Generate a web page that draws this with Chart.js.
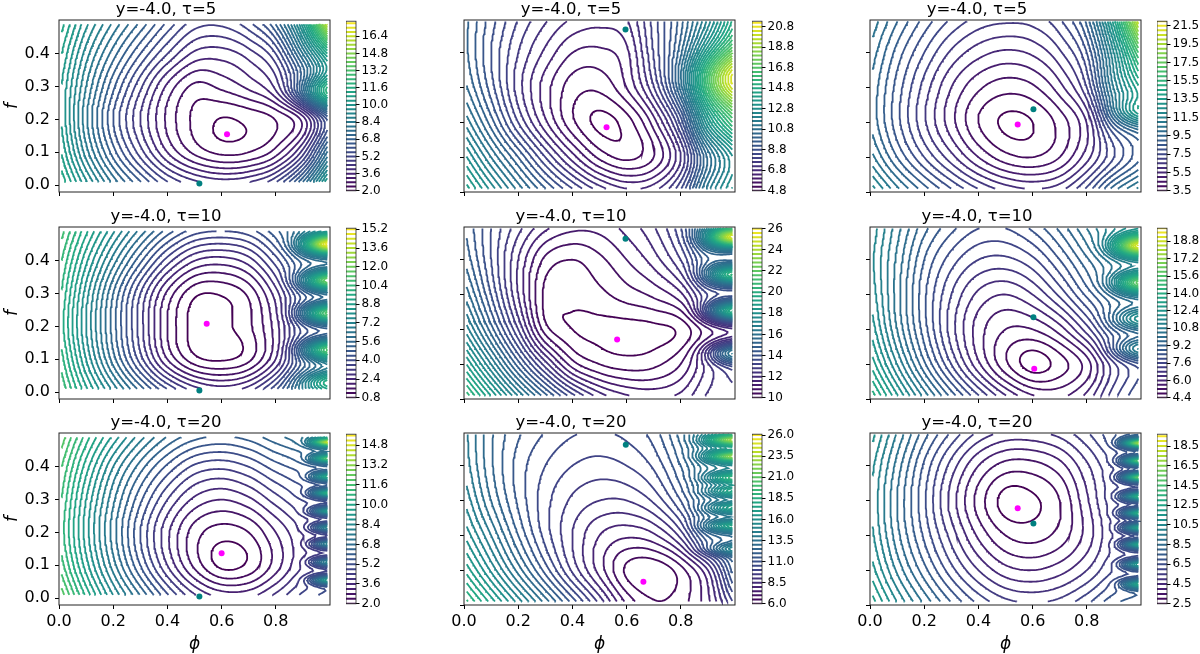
<!DOCTYPE html>
<html lang="en">
<head>
<meta charset="UTF-8">
<title>Contour panels</title>
<script src="https://cdn.jsdelivr.net/npm/chart.js"></script>
<style>
  body { margin: 0; background: #fff; width: 1200px; height: 654px; overflow: hidden; position: relative; }
  canvas { position: absolute; }
</style>
</head>
<body>
<script>
// ---- data ----
const titles = ['y=-4.0, τ=5', 'y=-4.0, τ=5', 'y=-4.0, τ=5',
                'y=-4.0, τ=10', 'y=-4.0, τ=10', 'y=-4.0, τ=10',
                'y=-4.0, τ=20', 'y=-4.0, τ=20', 'y=-4.0, τ=20'];
const xTicks = [0, 0.2, 0.4, 0.6, 0.8];
const yTicks = [0, 0.1, 0.2, 0.3, 0.4];

// field values on a coarse grid: rows f = 0.0 .. 0.5 (step 0.1), columns phi = 0.0 .. 1.0 (step 0.1)
const field1 = [
  [11.8, 9.8, 8.0, 6.6, 5.4, 4.7, 4.4, 4.6, 5.4, 7.5, 11.0],
  [11.0, 8.6, 6.6, 5.0, 3.6, 2.7, 2.3, 2.4, 3.0, 4.6, 8.0],
  [10.6, 8.1, 6.0, 4.4, 3.1, 2.3, 1.98, 2.1, 2.4, 3.2, 6.0],
  [10.6, 8.4, 6.5, 4.9, 3.5, 2.7, 2.9, 3.3, 3.9, 5.5, 8.5],
  [11.0, 9.0, 7.4, 6.0, 4.8, 3.9, 3.8, 4.2, 5.2, 8.0, 11.5],
  [11.6, 9.8, 8.4, 7.2, 6.0, 5.1, 5.0, 5.6, 7.0, 10.5, 17.5]
];
const field2 = [
  [14.5, 12.8, 11.2, 9.8, 8.6, 7.6, 7.0, 7.2, 8.5, 11.5, 13.5],
  [13.0, 11.2, 9.6, 8.0, 6.6, 5.5, 5.1, 5.6, 7.2, 10.5, 13.0],
  [11.6, 9.8, 8.0, 6.5, 5.3, 4.7, 5.0, 6.2, 8.5, 13.0, 16.0],
  [10.6, 9.0, 7.4, 6.2, 5.4, 5.3, 6.0, 7.5, 10.0, 14.0, 17.0],
  [10.2, 8.8, 7.6, 6.7, 6.0, 5.9, 6.3, 8.0, 10.0, 13.0, 16.0],
  [10.2, 9.0, 8.0, 7.3, 6.8, 6.6, 6.8, 8.2, 9.8, 12.0, 15.0]
];
const field3 = [
  [12.5, 10.8, 9.4, 8.2, 7.2, 6.5, 6.2, 6.5, 7.8, 10.0, 11.5],
  [10.8, 9.0, 7.5, 6.2, 5.0, 4.2, 4.0, 4.5, 5.8, 7.5, 9.0],
  [10.0, 8.2, 6.6, 5.2, 4.0, 3.4, 3.5, 4.2, 5.5, 8.5, 10.0],
  [10.0, 8.3, 6.8, 5.5, 4.6, 4.2, 4.4, 5.3, 7.0, 11.0, 14.0],
  [10.4, 8.8, 7.5, 6.4, 5.7, 5.4, 5.6, 6.4, 8.0, 12.0, 17.0],
  [11.0, 9.6, 8.4, 7.5, 6.9, 6.7, 6.8, 7.5, 9.3, 14.0, 21.5]
];
const field4 = [
  [11.0, 9.0, 7.2, 5.6, 4.2, 3.2, 2.8, 3.2, 4.5, 6.5, 7.5],
  [10.4, 8.0, 5.8, 3.8, 2.0, 0.95, 0.75, 1.1, 2.4, 4.6, 6.0],
  [10.0, 7.6, 5.4, 3.4, 1.6, 0.65, 0.7, 1.1, 2.2, 4.0, 4.5],
  [10.2, 7.8, 5.6, 3.6, 1.9, 0.9, 0.85, 1.3, 2.6, 4.4, 5.0],
  [10.6, 8.5, 6.6, 4.9, 3.4, 2.4, 2.2, 2.6, 3.8, 5.2, 5.5],
  [11.2, 9.4, 7.8, 6.4, 5.2, 4.4, 4.2, 4.4, 5.2, 6.3, 7.0]
];
const field5 = [
  [21.0, 19.0, 17.0, 15.2, 13.6, 12.4, 11.8, 11.6, 11.8, 12.5, 12.5],
  [19.0, 16.8, 14.6, 12.6, 11.0, 10.4, 10.2, 10.3, 10.8, 12.0, 13.0],
  [17.2, 15.0, 12.8, 10.6, 10.0, 9.9, 9.85, 9.9, 10.1, 11.0, 11.5],
  [16.0, 14.0, 12.0, 10.3, 10.15, 10.3, 10.6, 10.9, 11.5, 13.0, 13.0],
  [15.2, 13.6, 12.0, 10.7, 10.4, 10.7, 11.2, 11.8, 12.8, 14.5, 14.0],
  [14.8, 13.6, 12.6, 11.8, 11.4, 11.4, 11.8, 12.4, 13.6, 16.0, 16.0]
];
const field6 = [
  [14.5, 12.6, 10.8, 9.2, 7.8, 6.6, 5.8, 5.6, 6.2, 7.5, 8.5],
  [13.2, 11.2, 9.3, 7.6, 6.1, 4.9, 4.2, 4.6, 5.4, 7.0, 8.0],
  [12.4, 10.4, 8.6, 7.0, 5.8, 5.2, 5.2, 5.8, 7.0, 8.5, 9.0],
  [12.0, 10.2, 8.5, 7.2, 6.3, 6.0, 6.4, 7.3, 8.5, 9.5, 10.0],
  [11.8, 10.3, 8.8, 7.8, 7.2, 7.1, 7.5, 8.4, 9.5, 10.5, 11.0],
  [12.0, 10.6, 9.4, 8.6, 8.1, 8.1, 8.6, 9.4, 10.5, 11.5, 12.0]
];
const field7 = [
  [12.5, 10.4, 8.5, 6.9, 5.4, 4.2, 3.6, 3.6, 4.2, 5.0, 5.5],
  [11.6, 9.4, 7.4, 5.6, 4.0, 2.7, 1.9, 2.1, 3.0, 4.0, 4.5],
  [11.2, 9.0, 7.0, 5.2, 3.7, 2.6, 2.2, 2.4, 3.2, 4.0, 4.5],
  [11.4, 9.2, 7.3, 5.7, 4.4, 3.5, 3.2, 3.5, 4.2, 4.8, 5.0],
  [11.8, 9.8, 8.0, 6.6, 5.5, 4.7, 4.5, 4.8, 5.4, 5.8, 6.0],
  [12.5, 10.7, 9.2, 7.9, 6.9, 6.3, 6.1, 6.3, 6.8, 7.2, 7.5]
];
const field8 = [
  [19.5, 17.5, 15.5, 13.5, 11.5, 9.5, 7.5, 6.6, 6.8, 7.8, 10.0],
  [17.5, 15.4, 13.3, 11.3, 9.4, 7.8, 6.4, 6.1, 6.8, 8.5, 12.0],
  [16.0, 14.0, 12.0, 10.3, 9.0, 8.0, 7.6, 7.9, 9.2, 12.0, 13.0],
  [15.0, 13.0, 11.4, 10.2, 9.4, 9.0, 9.0, 9.6, 11.0, 13.0, 14.0],
  [14.4, 12.6, 11.3, 10.5, 10.0, 9.8, 10.0, 10.6, 12.0, 14.0, 15.0],
  [14.2, 12.6, 11.6, 11.0, 10.6, 10.5, 10.7, 11.3, 12.8, 15.0, 16.0]
];
const field9 = [
  [12.5, 10.6, 9.0, 7.6, 6.5, 5.8, 5.6, 5.8, 6.5, 7.5, 8.0],
  [11.4, 9.4, 7.7, 6.2, 5.0, 4.2, 4.0, 4.3, 5.0, 6.0, 6.5],
  [10.8, 8.7, 6.9, 5.3, 3.9, 3.0, 2.8, 3.2, 4.2, 5.5, 6.0],
  [10.6, 8.5, 6.6, 4.8, 3.3, 2.3, 2.4, 3.0, 4.4, 5.8, 6.0],
  [10.8, 8.8, 6.9, 5.3, 4.0, 3.3, 3.3, 3.8, 4.9, 6.0, 6.5],
  [11.4, 9.5, 7.8, 6.5, 5.5, 5.0, 5.0, 5.3, 6.0, 7.0, 7.5]
];

// bright lobes along the right edge (phi = 1): centre f and height
const lobeF1 = [0.28],               lobeA1 = [4.5];
const lobeF2 = [0.33],               lobeA2 = [4];
const lobeF3 = [0.23],               lobeA3 = [3];
const lobeF4 = [0.45, 0.34, 0.24, 0.13, 0.03], lobeA4 = [9, 7, 7, 6, 3];
const lobeF5 = [0.465, 0.357, 0.252, 0.133],   lobeA5 = [10, 7, 8, 4];
const lobeF6 = [0.44, 0.333, 0.229, 0.143],    lobeA6 = [8, 6, 3, 3];
const lobeF7 = [0.475, 0.425, 0.37, 0.32, 0.265, 0.215, 0.165, 0.11, 0.055], lobeA7 = [8, 6, 5, 6, 5, 4, 4, 4, 5];
const lobeF8 = [0.474, 0.427, 0.365, 0.327, 0.279, 0.227, 0.16], lobeA8 = [8, 8, 5, 4, 4, 5, 3];
const lobeF9 = [0.465, 0.414, 0.367, 0.312, 0.264, 0.222, 0.174, 0.117, 0.06], lobeA9 = [11, 9, 10, 8, 8, 7, 7, 6, 6];
const lobeWidthF = [0.05, 0.08, 0.04, 0.03, 0.03, 0.03, 0.014, 0.016, 0.014];
const lobeDepth  = [0.12, 0.15, 0.10, 0.09, 0.09, 0.09, 0.06, 0.09, 0.06];

// contour levels and colour bar range
const levelMin  = [2.0, 4.8, 3.5, 0.8, 10.0, 4.4, 2.0, 6.0, 2.5];
const levelStep = [0.4, 0.4, 0.5, 0.4, 0.4, 0.4, 0.4, 0.5, 0.5];
const levelMax  = [17.6, 21.2, 22.0, 15.2, 26.0, 20.0, 15.6, 26.0, 19.5];
const barMax    = [17.8, 21.35, 22.0, 15.3, 26.05, 20.0, 15.7, 26.1, 19.7];
const cbTicks1 = ['2.0', '3.6', '5.2', '6.8', '8.4', '10.0', '11.6', '13.2', '14.8', '16.4'];
const cbTicks2 = ['4.8', '6.8', '8.8', '10.8', '12.8', '14.8', '16.8', '18.8', '20.8'];
const cbTicks3 = ['3.5', '5.5', '7.5', '9.5', '11.5', '13.5', '15.5', '17.5', '19.5', '21.5'];
const cbTicks4 = ['0.8', '2.4', '4.0', '5.6', '7.2', '8.8', '10.4', '12.0', '13.6', '15.2'];
const cbTicks5 = ['10', '12', '14', '16', '18', '20', '22', '24', '26'];
const cbTicks6 = ['4.4', '6.0', '7.6', '9.2', '10.8', '12.4', '14.0', '15.6', '17.2', '18.8'];
const cbTicks7 = ['2.0', '3.6', '5.2', '6.8', '8.4', '10.0', '11.6', '13.2', '14.8'];
const cbTicks8 = ['6.0', '8.5', '11.0', '13.5', '16.0', '18.5', '21.0', '23.5', '26.0'];
const cbTicks9 = ['2.5', '4.5', '6.5', '8.5', '10.5', '12.5', '14.5', '16.5', '18.5'];

// marked points: [phi, f]
const minPoint  = [[0.62, 0.155], [0.526, 0.186], [0.545, 0.194], [0.545, 0.208], [0.565, 0.171],
                   [0.606, 0.087], [0.60, 0.137], [0.662, 0.067], [0.545, 0.278]];
const markPoint = [[0.518, 0.005], [0.596, 0.467], [0.603, 0.238], [0.518, 0.005], [0.596, 0.46],
                   [0.603, 0.235], [0.518, 0.005], [0.597, 0.46], [0.603, 0.234]];

const fields = [field1, field2, field3, field4, field5, field6, field7, field8, field9];
const lobeF = [lobeF1, lobeF2, lobeF3, lobeF4, lobeF5, lobeF6, lobeF7, lobeF8, lobeF9];
const lobeA = [lobeA1, lobeA2, lobeA3, lobeA4, lobeA5, lobeA6, lobeA7, lobeA8, lobeA9];
const cbTicks = [cbTicks1, cbTicks2, cbTicks3, cbTicks4, cbTicks5, cbTicks6, cbTicks7, cbTicks8, cbTicks9];

// ---- layout ----
const FONT = 'DejaVu Sans';
const colLeft = [59, 464, 870];
const rowTop = [20, 227, 433];
const plotW = 271, plotH = 172;
const axisW = 57, titleH = 20, xAxisH = 50;
const barLeft = [346, 752, 1157], barW = 10;
const yRange = [[-0.021, 0.503], [0, 0.494], [0, 0.494]];

const VIR = ['#440154', '#482475', '#414487', '#355f8d', '#2a788e', '#21918c',
             '#22a884', '#44bf70', '#7ad151', '#bddf26', '#fde725'];
function hexRgb(h) { return [1, 3, 5].map(i => parseInt(h.slice(i, i + 2), 16)); }
function viridis(t) {
  t = Math.max(0, Math.min(1, t));
  const p = t * 10, i = Math.min(9, Math.floor(p)), u = p - i;
  const a = hexRgb(VIR[i]), b = hexRgb(VIR[i + 1]);
  return 'rgb(' + a.map((v, k) => Math.round(v + (b[k] - v) * u)).join(',') + ')';
}

function catmull(p0, p1, p2, p3, t) {
  return 0.5 * (2 * p1 + (-p0 + p2) * t + (2 * p0 - 5 * p1 + 4 * p2 - p3) * t * t
         + (-p0 + 3 * p1 - 3 * p2 + p3) * t * t * t);
}
function gridAt(G, phi, f) {
  const gx = phi * 10, gy = f * 10;
  const i = Math.min(9, Math.floor(gx)), j = Math.min(4, Math.floor(gy));
  const tx = gx - i, ty = gy - j;
  const cell = (r, k) => {
    if (k < 0) return 2 * r[0] - r[1];
    if (k > 10) return 2 * r[10] - r[9];
    return r[k];
  };
  const rowVal = jj => {
    if (jj < 0) return 2 * rowVal(0) - rowVal(1);
    if (jj > 5) return 2 * rowVal(5) - rowVal(4);
    const r = G[jj];
    return catmull(cell(r, i - 1), cell(r, i), cell(r, i + 1), cell(r, i + 2), tx);
  };
  return catmull(rowVal(j - 1), rowVal(j), rowVal(j + 1), rowVal(j + 2), ty);
}

function buildSurface(k) {
  const NX = 160, NY = 80;
  const xs = [], ys = [];
  for (let i = 0; i < NX; i++) xs.push(0.01 + 0.98 * i / (NX - 1));
  for (let j = 0; j < NY; j++) ys.push(0.01 + 0.48 * j / (NY - 1));
  const Z = ys.map(f => xs.map(phi => {
    let v = gridAt(fields[k], phi, f);
    lobeF[k].forEach((fc, n) => {
      const a = (f - fc) / lobeWidthF[k], b = (1 - phi) / lobeDepth[k];
      v += lobeA[k][n] * Math.exp(-a * a - b * b);
    });
    return v;
  }));
  return { xs, ys, Z };
}

// marching squares, segments chained into polylines
function traceLevel(S, L) {
  const { xs, ys, Z } = S;
  const pos = new Map(), adj = new Map();
  const pt = (i, j, d) => {
    const key = d * 1000000 + j * 1000 + i;
    if (!pos.has(key)) {
      let x, y;
      if (d === 0) {
        const z0 = Z[j][i], z1 = Z[j][i + 1], t = (L - z0) / (z1 - z0);
        x = xs[i] + t * (xs[i + 1] - xs[i]); y = ys[j];
      } else {
        const z0 = Z[j][i], z1 = Z[j + 1][i], t = (L - z0) / (z1 - z0);
        x = xs[i]; y = ys[j] + t * (ys[j + 1] - ys[j]);
      }
      pos.set(key, { x, y });
    }
    return key;
  };
  const link = (a, b) => {
    if (!adj.has(a)) adj.set(a, []);
    if (!adj.has(b)) adj.set(b, []);
    adj.get(a).push(b); adj.get(b).push(a);
  };
  for (let j = 0; j < ys.length - 1; j++) {
    for (let i = 0; i < xs.length - 1; i++) {
      const a = Z[j][i] > L, b = Z[j][i + 1] > L, c = Z[j + 1][i + 1] > L, d = Z[j + 1][i] > L;
      const e = [];
      if (a !== b) e.push(pt(i, j, 0));
      if (b !== c) e.push(pt(i + 1, j, 1));
      if (d !== c) e.push(pt(i, j + 1, 0));
      if (a !== d) e.push(pt(i, j, 1));
      if (e.length === 2) link(e[0], e[1]);
      else if (e.length === 4) {
        const m = (Z[j][i] + Z[j][i + 1] + Z[j + 1][i + 1] + Z[j + 1][i]) / 4 > L;
        if (a === m) { link(e[0], e[1]); link(e[2], e[3]); }
        else { link(e[0], e[3]); link(e[1], e[2]); }
      }
    }
  }
  const used = new Set(), out = [];
  const walk = start => {
    const line = [start]; used.add(start);
    let cur = start;
    while (true) {
      const nb = adj.get(cur).filter(n => !used.has(n));
      if (!nb.length) {
        if (line.length > 2 && adj.get(cur).includes(start)) line.push(start);
        break;
      }
      cur = nb[0]; used.add(cur); line.push(cur);
    }
    line.forEach(key => out.push(pos.get(key)));
    out.push({ x: NaN, y: NaN });
  };
  for (const [key, nb] of adj) if (nb.length === 1 && !used.has(key)) walk(key);
  for (const key of adj.keys()) if (!used.has(key)) walk(key);
  return out;
}

const framePlugin = {
  id: 'frame',
  afterDraw(chart, args, opts) {
    const { ctx, chartArea: a } = chart;
    ctx.save();
    ctx.strokeStyle = '#222';
    ctx.lineWidth = opts.width || 1;
    ctx.strokeRect(a.left, a.top, a.right - a.left, a.bottom - a.top);
    ctx.restore();
  }
};

function addCanvas(left, top, w, h) {
  const cv = document.createElement('canvas');
  cv.width = w; cv.height = h;
  cv.style.left = left + 'px'; cv.style.top = top + 'px';
  cv.style.width = w + 'px'; cv.style.height = h + 'px';
  document.body.appendChild(cv);
  return cv;
}

for (let k = 0; k < 9; k++) {
  const r = Math.floor(k / 3), c = k % 3;
  const S = buildSurface(k);
  const span = barMax[k] - levelMin[k];
  const levels = [];
  for (let L = levelMin[k]; L <= levelMax[k] + 1e-6; L += levelStep[k]) levels.push(+L.toFixed(3));

  const datasets = [
    { data: [{ x: minPoint[k][0], y: minPoint[k][1] }], backgroundColor: '#ff00ff',
      pointRadius: 3, borderWidth: 0, showLine: false },
    { data: [{ x: markPoint[k][0], y: markPoint[k][1] }], backgroundColor: '#008080',
      pointRadius: 3, borderWidth: 0, showLine: false }
  ];
  levels.forEach(L => {
    datasets.push({
      data: traceLevel(S, L), showLine: true, pointRadius: 0, borderWidth: 1.8,
      borderColor: viridis((L - levelMin[k]) / span), tension: 0, fill: false, spanGaps: false
    });
  });

  const cv = addCanvas(colLeft[c] - axisW, rowTop[r] - titleH, axisW * 2 + plotW, titleH + plotH + xAxisH);
  new Chart(cv, {
    type: 'scatter',
    data: { datasets },
    options: {
      animation: false, responsive: false, events: [],
      layout: { padding: { left: 0, right: axisW, top: 0, bottom: 0 } },
      plugins: {
        legend: { display: false }, tooltip: { enabled: false },
        title: { display: true, text: titles[k], color: '#000',
                 font: { family: FONT, size: 16.5, weight: 'normal', lineHeight: 1.2 },
                 padding: { top: 0, bottom: 0.2 } },
        frame: { width: 1 }
      },
      scales: {
        x: {
          type: 'linear', min: 0, max: 1,
          afterBuildTicks: s => { s.ticks = xTicks.map(v => ({ value: v })); },
          afterFit: s => { s.height = xAxisH; },
          ticks: { display: r === 2, color: '#000', padding: 3, autoSkip: false, maxRotation: 0,
                   font: { family: FONT, size: 16 }, callback: v => v.toFixed(1) },
          grid: { drawOnChartArea: false, tickLength: 4, color: '#000' },
          border: { display: false },
          title: { display: r === 2, text: 'ϕ', color: '#000', padding: { top: 0, bottom: 0 },
                   font: { family: FONT, size: 17, style: 'italic', lineHeight: 1.2 } }
        },
        y: {
          type: 'linear', min: yRange[c][0], max: yRange[c][1],
          afterBuildTicks: s => { s.ticks = yTicks.map(v => ({ value: v })); },
          afterFit: s => { s.width = axisW; },
          ticks: { display: c === 0, color: '#000', padding: 5, autoSkip: false,
                   font: { family: FONT, size: 16 }, callback: v => v.toFixed(1) },
          grid: { drawOnChartArea: false, tickLength: 4, color: '#000' },
          border: { display: false },
          title: { display: c === 0, text: 'f', color: '#000', padding: { top: 0, bottom: 0 },
                   font: { family: FONT, size: 17, style: 'italic', lineHeight: 1.2 } }
        }
      }
    },
    plugins: [framePlugin]
  });

  // colour bar: one line per contour level
  const barSets = levels.map(L => ({
    data: [{ x: 0, y: L }, { x: 1, y: L }], showLine: true, pointRadius: 0, borderWidth: 2,
    borderColor: viridis((L - levelMin[k]) / span), fill: false
  }));
  const cbv = addCanvas(barLeft[c], rowTop[r] - 8, barW + 45, plotH + 16);
  new Chart(cbv, {
    type: 'scatter',
    data: { datasets: barSets },
    options: {
      animation: false, responsive: false, events: [],
      layout: { padding: { left: 0, right: 0, top: 8, bottom: 8 } },
      plugins: { legend: { display: false }, tooltip: { enabled: false }, frame: { width: 0.8 } },
      scales: {
        x: { type: 'linear', min: 0, max: 1, display: false },
        y: {
          type: 'linear', position: 'right', min: levelMin[k], max: barMax[k],
          afterBuildTicks: s => { s.ticks = cbTicks[k].map(t => ({ value: parseFloat(t) })); },
          afterFit: s => { s.width = 45; },
          ticks: { color: '#000', padding: 2, autoSkip: false,
                   font: { family: FONT, size: 12 }, callback: (v, i) => cbTicks[k][i] },
          grid: { drawOnChartArea: false, tickLength: 3.5, color: '#000' },
          border: { display: false }
        }
      }
    },
    plugins: [framePlugin]
  });
}
</script>
</body>
</html>
